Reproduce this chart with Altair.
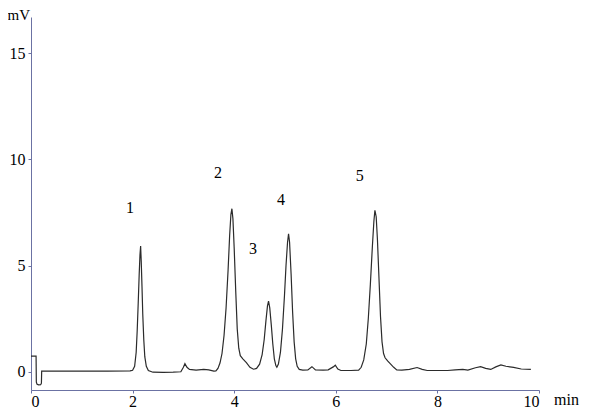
import altair as alt
import pandas as pd

times = [0.00, 0.10, 0.105, 0.12, 0.15, 0.19, 0.205, 0.21, 0.6, 1.0, 1.5, 1.95,
         2.00, 2.04, 2.07, 2.09, 2.11, 2.13, 2.145, 2.158, 2.17, 2.185, 2.20, 2.22, 2.24, 2.27, 2.31, 2.40,
         2.6, 2.8, 2.95, 3.00, 3.03, 3.07, 3.12, 3.25, 3.4, 3.5, 3.6,
         3.64, 3.68, 3.72, 3.76, 3.80, 3.84, 3.88, 3.91, 3.935, 3.955, 3.975, 4.00, 4.03, 4.06, 4.09,
         4.12, 4.17, 4.24, 4.31, 4.38,
         4.44, 4.50, 4.55, 4.59, 4.625, 4.655, 4.676, 4.70, 4.73, 4.76, 4.79, 4.82, 4.84,
         4.87, 4.91, 4.95, 4.99, 5.02, 5.05, 5.07, 5.09, 5.12, 5.15, 5.18, 5.21, 5.24, 5.28,
         5.35, 5.45, 5.53, 5.6, 5.75, 5.85, 5.95, 5.99, 6.04, 6.1, 6.3, 6.45,
         6.50, 6.55, 6.60, 6.64, 6.68, 6.72, 6.75, 6.77, 6.795, 6.82, 6.85, 6.88, 6.91, 6.94, 6.97,
         7.02, 7.08, 7.14, 7.2, 7.3, 7.45, 7.6, 7.7, 7.8, 8.0, 8.2, 8.35, 8.5, 8.6, 8.75, 8.85,
         8.95, 9.05, 9.15, 9.25, 9.35, 9.5, 9.65, 9.84]
signal = [0.73, 0.73, -0.50, -0.60, -0.63, -0.62, -0.55, 0.02, 0.02, 0.02, 0.02, 0.03,
          0.06, 0.25, 0.9, 1.9, 3.2, 4.6, 5.5, 5.92, 5.2, 4.0, 2.7, 1.5, 0.7, 0.25, 0.05, -0.03,
          -0.04, -0.03, -0.01, 0.2, 0.37, 0.2, 0.1, 0.07, 0.1, 0.08, 0.02,
          0.03, 0.15, 0.4, 0.85, 1.7, 3.0, 4.8, 6.4, 7.4, 7.68, 7.2, 5.8, 3.8, 2.0, 1.1,
          0.75, 0.6, 0.42, 0.2, 0.11,
          0.15, 0.35, 0.8, 1.5, 2.4, 3.1, 3.32, 3.0, 2.2, 1.3, 0.6, 0.28, 0.2,
          0.35, 0.9, 2.0, 3.6, 5.0, 6.1, 6.5, 6.1, 4.6, 2.8, 1.4, 0.6, 0.25, 0.1,
          0.07, 0.08, 0.23, 0.08, 0.07, 0.08, 0.22, 0.3, 0.12, 0.05, 0.05, 0.07,
          0.2, 0.55, 1.3, 2.5, 4.1, 5.9, 7.1, 7.6, 7.3, 6.2, 4.4, 2.6, 1.4, 0.85, 0.65,
          0.5, 0.35, 0.2, 0.08, 0.07, 0.1, 0.19, 0.1, 0.05, 0.05, 0.05, 0.08, 0.1, 0.07, 0.18, 0.23,
          0.15, 0.1, 0.22, 0.31, 0.25, 0.2, 0.12, 0.1]

peak_labels = ["1", "2", "3", "4", "5"]
peak_label_t = [1.95, 3.68, 4.37, 4.92, 6.47]
peak_label_mv = [7.72, 9.37, 5.8, 8.1, 9.23]

x_ticks = [0, 2, 4, 6, 8, 10]
y_ticks = [0, 5, 10, 15]
y_min, y_max = -0.87, 16.72

FONT = "Liberation Serif, Times New Roman, DejaVu Serif, serif"
AXIS_COLOR = "#6b72a3"

trace = pd.DataFrame({"t": times, "mv": signal, "i": list(range(len(times)))})
labels = pd.DataFrame({"t": peak_label_t, "mv": peak_label_mv, "lab": peak_labels})

xs = alt.Scale(domain=[0, 10], nice=False)
ys = alt.Scale(domain=[y_min, y_max], nice=False)

line = alt.Chart(trace).mark_line(color="#2b2b2b", strokeWidth=1.2).encode(
    x=alt.X("t:Q", scale=xs, title="",
            axis=alt.Axis(values=x_ticks, grid=False, domainColor=AXIS_COLOR, tickColor=AXIS_COLOR,
                          tickSize=3, labelPadding=0, labelFont=FONT, labelFontSize=16,
                          labelColor="black")),
    y=alt.Y("mv:Q", scale=ys, title="",
            axis=alt.Axis(values=y_ticks, grid=False, domainColor=AXIS_COLOR, tickColor=AXIS_COLOR,
                          tickSize=3, labelPadding=3, labelFont=FONT, labelFontSize=16,
                          labelColor="black")),
    order="i:Q",
)

peaks = alt.Chart(labels).mark_text(font=FONT, fontSize=16, color="black",
                                    align="center", baseline="middle").encode(
    x=alt.X("t:Q", scale=xs), y=alt.Y("mv:Q", scale=ys), text="lab:N")

mv_unit = alt.Chart(pd.DataFrame({"t": [0], "mv": [y_max], "s": ["mV"]})).mark_text(
    font=FONT, fontSize=15, color="black", align="right", baseline="alphabetic", dx=-1, dy=3
).encode(x=alt.X("t:Q", scale=xs), y=alt.Y("mv:Q", scale=ys), text="s:N")

min_unit = alt.Chart(pd.DataFrame({"t": [10], "mv": [y_min], "s": ["min"]})).mark_text(
    font=FONT, fontSize=16, color="black", align="left", baseline="alphabetic", dx=15, dy=15
).encode(x=alt.X("t:Q", scale=xs), y=alt.Y("mv:Q", scale=ys), text="s:N")

chart = alt.layer(line, peaks, mv_unit, min_unit).properties(
    width=508, height=373,
    autosize=alt.AutoSizeParams(type="none"),
    padding={"left": 23, "top": 9, "right": 46, "bottom": 19},
).configure_view(strokeWidth=0)

chart.save("out.html", embed_options={"renderer": "svg", "actions": False})
